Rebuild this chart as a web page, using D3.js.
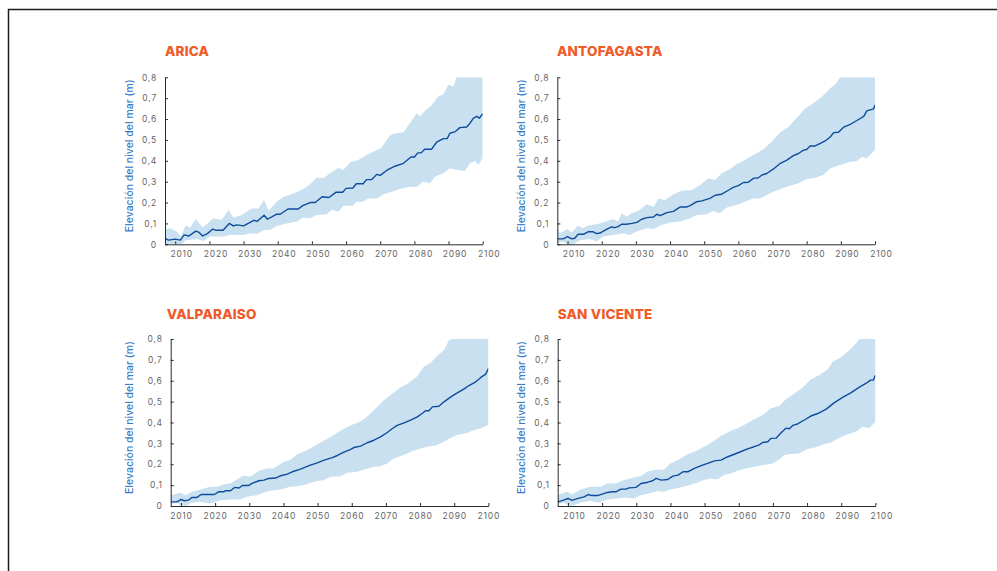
<!DOCTYPE html>
<html>
<head>
<meta charset="utf-8">
<script src="https://cdn.jsdelivr.net/npm/d3@7"></script>
<style>
  body { margin: 0; background: #fff; }
  svg { display: block; }
</style>
</head>
<body>
<div id="chart"></div>
<script>
// ---- data: [year, metres] ----
const xTicks = [2010, 2020, 2030, 2040, 2050, 2060, 2070, 2080, 2090, 2100];
const yTicks = [0, 0.1, 0.2, 0.3, 0.4, 0.5, 0.6, 0.7, 0.8];
const yTitle = "Elevación del nivel del mar (m)";

const aricaMean = [[2007,0.029],[2008,0.02],[2010,0.025],[2011.5,0.02],[2012.6,0.045],[2014,0.04],[2016,0.063],[2017,0.057],[2018,0.04],[2019.3,0.05],[2021,0.073],[2022,0.067],[2024,0.067],[2025.8,0.1],[2027,0.088],[2028,0.093],[2030,0.088],[2033,0.115],[2034,0.11],[2036,0.139],[2037,0.12],[2039.7,0.144],[2040.7,0.144],[2043,0.169],[2046,0.169],[2047.3,0.185],[2049.5,0.2],[2051,0.2],[2053,0.228],[2055,0.224],[2057,0.249],[2059,0.249],[2060,0.268],[2062,0.27],[2063,0.29],[2065,0.29],[2066,0.31],[2067.5,0.31],[2069,0.335],[2070,0.33],[2072,0.355],[2074.3,0.374],[2076.8,0.388],[2079,0.418],[2080,0.418],[2081,0.438],[2082,0.438],[2083,0.455],[2085,0.455],[2086.5,0.489],[2088.5,0.506],[2089.6,0.506],[2090.4,0.532],[2092,0.54],[2093.3,0.559],[2095.3,0.562],[2096.3,0.58],[2097.3,0.604],[2098.3,0.613],[2099,0.604],[2100,0.626]];
const aricaUpper = [[2007,0.072],[2008.5,0.077],[2010.5,0.06],[2011.7,0.037],[2013,0.09],[2014.4,0.08],[2016,0.121],[2018,0.08],[2019.8,0.105],[2021.2,0.125],[2023.6,0.117],[2025.6,0.165],[2027,0.128],[2029.5,0.14],[2032.4,0.172],[2034.4,0.172],[2036,0.214],[2037.3,0.16],[2039.7,0.204],[2041.7,0.228],[2044.6,0.243],[2047,0.26],[2049.5,0.288],[2051.4,0.32],[2053.4,0.316],[2055.3,0.34],[2057.8,0.367],[2059.2,0.356],[2061.2,0.393],[2063.6,0.404],[2066,0.428],[2069,0.452],[2070.4,0.463],[2072.9,0.524],[2074.8,0.532],[2076.8,0.537],[2078.7,0.58],[2080.7,0.628],[2081.6,0.612],[2083,0.639],[2085,0.665],[2087,0.708],[2088.5,0.719],[2089.9,0.764],[2091.4,0.756],[2092.4,0.8],[2100,0.8]];
const aricaLower = [[2007,0],[2012,0],[2013,0.02],[2016.4,0.025],[2018.3,0.016],[2020.2,0.037],[2024,0.037],[2026,0.045],[2030,0.045],[2032,0.053],[2034,0.05],[2036,0.069],[2037.8,0.069],[2039.7,0.088],[2042.6,0.1],[2045.6,0.109],[2047.5,0.128],[2049.5,0.125],[2051.4,0.14],[2054.3,0.144],[2055.8,0.165],[2057.8,0.157],[2059.2,0.185],[2062.1,0.185],[2063,0.204],[2065,0.204],[2066.5,0.22],[2069,0.22],[2070.9,0.24],[2073.4,0.252],[2075.8,0.265],[2078.3,0.275],[2080.7,0.276],[2082.6,0.3],[2084.6,0.292],[2086,0.324],[2088.5,0.34],[2090.4,0.364],[2092.4,0.356],[2094.8,0.351],[2096.3,0.388],[2097.8,0.399],[2098.7,0.38],[2100,0.415]];

const antofagastaMean = [[2007,0.026],[2008.7,0.026],[2010,0.037],[2011.2,0.026],[2012.1,0.029],[2013.1,0.048],[2014.6,0.048],[2016,0.06],[2017.5,0.06],[2018.5,0.051],[2019.5,0.054],[2021.5,0.073],[2022.9,0.083],[2023.8,0.08],[2024.8,0.085],[2025.8,0.096],[2027.3,0.096],[2028.8,0.1],[2030.3,0.105],[2031.7,0.12],[2033.2,0.128],[2035.2,0.131],[2036.1,0.144],[2037.1,0.137],[2039.1,0.152],[2041,0.158],[2043,0.179],[2044.9,0.179],[2045.9,0.185],[2047.8,0.204],[2049.3,0.208],[2051.7,0.22],[2053.2,0.235],[2055.1,0.24],[2057.1,0.259],[2058.5,0.273],[2060,0.281],[2061.5,0.296],[2062.9,0.297],[2064.4,0.316],[2065.9,0.319],[2066.9,0.332],[2068.3,0.339],[2070.3,0.361],[2072.3,0.388],[2074.2,0.403],[2076.1,0.425],[2077.6,0.435],[2079.1,0.451],[2080,0.454],[2081,0.471],[2082.5,0.471],[2084,0.484],[2085.4,0.495],[2086.9,0.514],[2087.9,0.535],[2089.3,0.537],[2090.8,0.561],[2092.8,0.575],[2094.7,0.593],[2096.7,0.613],[2097.6,0.639],[2098.6,0.644],[2099.6,0.649],[2100,0.668]];
const antofagastaUpper = [[2007,0.077],[2007.8,0.053],[2010,0.073],[2011.2,0.057],[2013,0.09],[2014.6,0.077],[2016,0.09],[2018.5,0.096],[2020.4,0.104],[2023.3,0.121],[2024.8,0.109],[2025.8,0.149],[2027.3,0.133],[2028.8,0.149],[2031.2,0.165],[2033.2,0.192],[2035.2,0.179],[2036.6,0.22],[2038.6,0.212],[2041,0.24],[2043.5,0.256],[2046.4,0.26],[2048.8,0.284],[2051.2,0.316],[2053.2,0.308],[2055.1,0.34],[2057.6,0.361],[2059.5,0.383],[2061.9,0.404],[2064.4,0.428],[2067.3,0.455],[2069.8,0.492],[2072.3,0.537],[2074.7,0.563],[2077.1,0.606],[2079.6,0.652],[2082,0.676],[2084.5,0.708],[2086.9,0.748],[2088.4,0.767],[2089.8,0.8],[2100,0.8]];
const antofagastaLower = [[2007,0.005],[2008.7,0.013],[2010,0],[2011.7,0],[2013.6,0.02],[2016.5,0.025],[2018.5,0.013],[2020.4,0.037],[2023.3,0.045],[2026.3,0.053],[2028.2,0.045],[2030.2,0.061],[2033.2,0.077],[2035.2,0.073],[2037.1,0.09],[2040,0.105],[2043,0.109],[2045.9,0.125],[2047.8,0.14],[2050.7,0.144],[2052.7,0.16],[2054.6,0.149],[2056.6,0.176],[2059.5,0.188],[2061.9,0.204],[2064.4,0.22],[2066.4,0.22],[2068.3,0.236],[2070.3,0.252],[2072.8,0.268],[2075.2,0.281],[2077.6,0.292],[2080,0.313],[2082.5,0.319],[2084.9,0.332],[2086.9,0.364],[2089.8,0.38],[2092.3,0.393],[2094.7,0.399],[2096.2,0.42],[2097.6,0.412],[2100,0.452]];

const valparaisoMean = [[2007,0.02],[2008.8,0.02],[2010,0.031],[2011,0.025],[2012.2,0.028],[2013.2,0.041],[2014.7,0.041],[2015.9,0.055],[2019.8,0.055],[2021,0.068],[2022.5,0.068],[2023,0.073],[2024.5,0.073],[2025.7,0.089],[2027,0.086],[2028,0.098],[2029.8,0.098],[2030.8,0.108],[2032.8,0.121],[2034.3,0.124],[2035.7,0.132],[2037.7,0.134],[2039.2,0.145],[2041.1,0.153],[2042.6,0.164],[2045,0.177],[2047.5,0.193],[2049.9,0.207],[2051.9,0.22],[2054.3,0.232],[2055.8,0.242],[2057.7,0.258],[2059.7,0.271],[2060.6,0.28],[2062.6,0.287],[2064.5,0.303],[2066.5,0.315],[2068.4,0.331],[2070.4,0.352],[2071.8,0.37],[2073.3,0.386],[2075.3,0.398],[2077.2,0.411],[2079.2,0.427],[2080.6,0.443],[2081.6,0.456],[2082.6,0.456],[2083.6,0.475],[2085.5,0.478],[2087,0.499],[2089,0.523],[2090.9,0.542],[2092.9,0.561],[2094.3,0.577],[2096.3,0.595],[2097.8,0.616],[2099.2,0.632],[2100,0.658]];
const valparaisoUpper = [[2007,0.052],[2009.8,0.063],[2011.3,0.052],[2013.2,0.068],[2015.7,0.079],[2018.6,0.092],[2020.5,0.092],[2023,0.105],[2024.4,0.108],[2026.4,0.127],[2028.3,0.146],[2030.3,0.14],[2032.7,0.168],[2035.2,0.18],[2037.1,0.18],[2040.1,0.212],[2042,0.22],[2044,0.248],[2045.9,0.26],[2047.9,0.276],[2050.3,0.3],[2051.8,0.312],[2054.3,0.335],[2056.7,0.36],[2059.2,0.383],[2061.6,0.399],[2063.6,0.415],[2065.5,0.443],[2067.5,0.475],[2069.4,0.507],[2071.9,0.539],[2074.3,0.568],[2076.7,0.59],[2079.2,0.622],[2081.1,0.667],[2083.1,0.686],[2085,0.718],[2087,0.747],[2088.5,0.795],[2089.4,0.8],[2100,0.8]];
const valparaisoLower = [[2007,0.009],[2008.8,0.015],[2010,0.004],[2011.3,0],[2013.2,0.015],[2015.7,0.02],[2018.6,0.012],[2021.5,0.028],[2024.4,0.031],[2027.3,0.031],[2029.3,0.044],[2032.2,0.052],[2034.2,0.063],[2036.1,0.073],[2039.1,0.079],[2042,0.092],[2044.4,0.095],[2046.9,0.105],[2048.9,0.116],[2051.8,0.124],[2053.8,0.14],[2056.7,0.143],[2058.7,0.159],[2061.6,0.164],[2063.6,0.175],[2066.5,0.188],[2068.4,0.191],[2070.4,0.204],[2072.3,0.228],[2074.3,0.239],[2076.2,0.252],[2077.7,0.264],[2079.2,0.271],[2082.1,0.284],[2084.5,0.29],[2086.5,0.303],[2088,0.319],[2090.9,0.34],[2093.9,0.351],[2095.8,0.364],[2097.8,0.372],[2100,0.388]];

const sanVicenteMean = [[2007,0.02],[2008.7,0.028],[2010,0.036],[2011.2,0.027],[2012.7,0.035],[2014.7,0.044],[2015.9,0.055],[2017,0.05],[2018.6,0.05],[2020,0.057],[2021.5,0.065],[2023,0.068],[2024,0.068],[2025.5,0.081],[2026.9,0.081],[2027.9,0.087],[2029.9,0.089],[2031.4,0.108],[2033.4,0.114],[2034.8,0.121],[2035.8,0.132],[2037.3,0.124],[2039.2,0.127],[2040.7,0.143],[2042.2,0.148],[2043.7,0.164],[2045.1,0.164],[2047,0.18],[2049,0.193],[2050.9,0.204],[2052.9,0.216],[2054.8,0.22],[2056.8,0.236],[2058.7,0.248],[2060.7,0.261],[2062.6,0.274],[2064.5,0.284],[2066,0.293],[2067,0.304],[2068.5,0.308],[2069.4,0.324],[2070.9,0.325],[2072.4,0.351],[2073.8,0.373],[2074.8,0.37],[2075.8,0.386],[2077.2,0.393],[2079.2,0.412],[2081.1,0.431],[2083.1,0.443],[2085.5,0.463],[2087.9,0.494],[2090.4,0.52],[2092.8,0.542],[2095.2,0.568],[2097.2,0.587],[2098.6,0.603],[2099.4,0.603],[2100,0.626]];
const sanVicenteUpper = [[2007,0.052],[2008.7,0.063],[2010,0.068],[2011.2,0.055],[2013.7,0.079],[2016.6,0.092],[2019.5,0.092],[2021.5,0.108],[2024,0.108],[2026.4,0.124],[2029.3,0.137],[2031.2,0.143],[2033.2,0.164],[2036.1,0.175],[2038,0.172],[2040,0.204],[2042.5,0.223],[2045,0.248],[2047,0.26],[2049.9,0.284],[2052.4,0.308],[2054.8,0.335],[2057.7,0.36],[2059.7,0.372],[2062.1,0.393],[2064.5,0.415],[2067,0.436],[2069.4,0.468],[2071.9,0.479],[2073.8,0.511],[2076.3,0.539],[2078.7,0.568],[2081.1,0.606],[2083.6,0.627],[2086,0.654],[2087.5,0.691],[2089.9,0.712],[2092.4,0.747],[2094.3,0.779],[2095.3,0.8],[2100,0.8]];
const sanVicenteLower = [[2007,0.009],[2008.7,0.015],[2010.2,0.004],[2011.2,0],[2013.7,0.015],[2016.6,0.025],[2019,0.015],[2021.5,0.031],[2024.4,0.036],[2026.9,0.041],[2029.3,0.036],[2031.2,0.052],[2033.7,0.06],[2036.1,0.071],[2038,0.068],[2040,0.079],[2042.9,0.089],[2045.4,0.1],[2047.8,0.111],[2049.8,0.124],[2051.8,0.132],[2053.7,0.127],[2055.7,0.148],[2057.7,0.156],[2059.7,0.169],[2062.1,0.18],[2064.5,0.188],[2067.4,0.196],[2069.9,0.204],[2071.9,0.223],[2073.3,0.244],[2075.3,0.249],[2077.7,0.252],[2079.7,0.271],[2082.6,0.281],[2085,0.297],[2086.9,0.303],[2088.4,0.319],[2091.3,0.34],[2094.3,0.356],[2096.2,0.38],[2098.2,0.372],[2100,0.404]];

// ---- layout ----
const width = 997,
    height = 571,
    pw = 317.7,
    ph = 167;

const panels = [
  { name: "ARICA", mean: aricaMean, upper: aricaUpper, lower: aricaLower,
    left: 165, top: 77.3, titleX: 165, titleY: 55.7, yTitleX: 132.5, labelDx: 6 },
  { name: "ANTOFAGASTA", mean: antofagastaMean, upper: antofagastaUpper, lower: antofagastaLower,
    left: 557.3, top: 77.3, titleX: 557, titleY: 55.7, yTitleX: 524.5, labelDx: 6 },
  { name: "VALPARAISO", mean: valparaisoMean, upper: valparaisoUpper, lower: valparaisoLower,
    left: 170.7, top: 339, titleX: 166.7, titleY: 319.3, yTitleX: 132.5, labelDx: 0 },
  { name: "SAN VICENTE", mean: sanVicenteMean, upper: sanVicenteUpper, lower: sanVicenteLower,
    left: 557.7, top: 339, titleX: 557.7, titleY: 319.3, yTitleX: 524.5, labelDx: 6 }
];

const locale = d3.formatLocale({ decimal: ",", thousands: ".", grouping: [3], currency: ["", ""] });
const fmt = locale.format(".1~f");

const svg = d3.select("#chart").append("svg")
    .attr("width", width)
    .attr("height", height);

// page frame
svg.append("path")
    .attr("d", "M8.5," + height + "V9.5H" + width)
    .attr("fill", "none")
    .attr("stroke", "#1c1c1c")
    .attr("stroke-width", 1.5);

panels.forEach(drawPanel);

function drawPanel(p, i) {
  const x = d3.scaleLinear().domain([2007, 2100]).range([0, pw]);
  const y = d3.scaleLinear().domain([0, 0.8]).range([ph, 0]);

  // title
  svg.append("text")
      .attr("x", p.titleX)
      .attr("y", p.titleY)
      .attr("fill", "#f05a28")
      .style("font-family", "Inter, 'Open Sans', sans-serif")
      .style("font-weight", 800)
      .style("font-size", "13.5px")
      .style("letter-spacing", "0.2px")
      .text(p.name);

  const g = svg.append("g")
      .attr("transform", "translate(" + p.left + "," + p.top + ")");

  g.append("clipPath")
      .attr("id", "clip" + i)
    .append("rect")
      .attr("width", pw)
      .attr("height", ph);

  const line = d3.line()
      .x(function(d) { return x(d[0]); })
      .y(function(d) { return y(d[1]); });

  // uncertainty band: upper edge forward, lower edge back
  g.append("path")
      .attr("clip-path", "url(#clip" + i + ")")
      .attr("d", line(p.upper.concat(p.lower.slice().reverse())) + "Z")
      .attr("fill", "#c8e0f0");

  g.append("path")
      .attr("clip-path", "url(#clip" + i + ")")
      .attr("d", line(p.mean))
      .attr("fill", "none")
      .attr("stroke", "#0e4c9c")
      .attr("stroke-width", 1.4)
      .attr("stroke-linejoin", "round");

  // axes
  const yAxis = g.append("g")
      .call(d3.axisLeft(y).tickValues(yTicks).tickFormat(fmt)
        .tickSizeInner(-3).tickSizeOuter(0).tickPadding(8));

  const xAxis = g.append("g")
      .attr("transform", "translate(0," + ph + ")")
      .call(d3.axisBottom(x).tickValues(xTicks).tickFormat(d3.format("d"))
        .tickSizeInner(-3).tickSizeOuter(0).tickPadding(7));

  [yAxis, xAxis].forEach(function(a) {
    a.select(".domain").attr("stroke", "#2a2a2a");
    a.selectAll(".tick line").attr("stroke", "#2a2a2a");
    a.selectAll("text")
        .attr("fill", "#666")
        .style("font-family", "Inter, 'Open Sans', sans-serif")
        .style("font-size", "8.5px")
        .style("letter-spacing", "0.8px");
  });
  xAxis.selectAll("text").attr("dx", p.labelDx);

  // y-axis title
  svg.append("text")
      .attr("transform", "translate(" + p.yTitleX + "," + (p.top + ph / 2 - 5) + ") rotate(-90)")
      .attr("text-anchor", "middle")
      .attr("fill", "#3a7cc6")
      .style("font-family", "Inter, 'Open Sans', sans-serif")
      .style("font-weight", 500)
      .style("font-size", "10.5px")
      .text(yTitle);
}
</script>
</body>
</html>
